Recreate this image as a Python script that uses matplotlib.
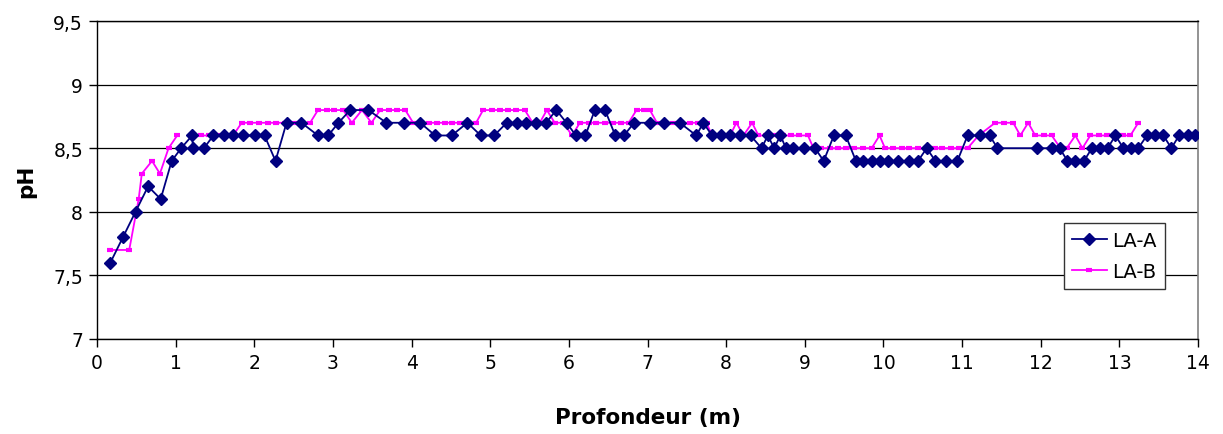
import numpy as np
import matplotlib
matplotlib.use("Agg")
import matplotlib.pyplot as plt
from matplotlib.ticker import FuncFormatter, MultipleLocator

plt.rcParams["font.family"] = ["DejaVu Sans"]

# LA-A profile: depth (m) and pH
depth_a = [0.17, 0.33, 0.49, 0.65, 0.81, 0.95, 1.07, 1.21, 1.22, 1.36,
           1.48, 1.61, 1.73, 1.86, 2.01, 2.13, 2.27, 2.41, 2.60, 2.81,
           2.94, 3.07, 3.22, 3.45, 3.68, 3.91, 4.11, 4.30, 4.51, 4.71,
           4.88, 5.05, 5.21, 5.34, 5.46, 5.58, 5.71, 5.84, 5.97, 6.09,
           6.21, 6.33, 6.46, 6.59, 6.70, 6.83, 7.03, 7.21, 7.41, 7.62,
           7.71, 7.82, 7.93, 8.05, 8.18, 8.31, 8.45, 8.53, 8.61, 8.69,
           8.76, 8.85, 8.99, 9.13, 9.24, 9.37, 9.52, 9.65, 9.74, 9.85,
           9.96, 10.06, 10.18, 10.32, 10.44, 10.55, 10.66, 10.80, 10.94, 11.07,
           11.23, 11.35, 11.45, 11.95, 12.14, 12.24, 12.34, 12.44, 12.55, 12.65,
           12.75, 12.85, 12.95, 13.05, 13.15, 13.24, 13.35, 13.45, 13.56, 13.66,
           13.76, 13.87, 13.96]
ph_a = [7.6, 7.8, 8.0, 8.2, 8.1, 8.4, 8.5, 8.6, 8.5, 8.5,
        8.6, 8.6, 8.6, 8.6, 8.6, 8.6, 8.4, 8.7, 8.7, 8.6,
        8.6, 8.7, 8.8, 8.8, 8.7, 8.7, 8.7, 8.6, 8.6, 8.7,
        8.6, 8.6, 8.7, 8.7, 8.7, 8.7, 8.7, 8.8, 8.7, 8.6,
        8.6, 8.8, 8.8, 8.6, 8.6, 8.7, 8.7, 8.7, 8.7, 8.6,
        8.7, 8.6, 8.6, 8.6, 8.6, 8.6, 8.5, 8.6, 8.5, 8.6,
        8.5, 8.5, 8.5, 8.5, 8.4, 8.6, 8.6, 8.4, 8.4, 8.4,
        8.4, 8.4, 8.4, 8.4, 8.4, 8.5, 8.4, 8.4, 8.4, 8.6,
        8.6, 8.6, 8.5, 8.5, 8.5, 8.5, 8.4, 8.4, 8.4, 8.5,
        8.5, 8.5, 8.6, 8.5, 8.5, 8.5, 8.6, 8.6, 8.6, 8.5,
        8.6, 8.6, 8.6]

# LA-B profile (missing reading around 1.1 m)
depth_b = [0.17, 0.41, 0.53, 0.57, 0.70, 0.80, 0.91, 1.02, 1.11,
           1.22, 1.32, 1.43, 1.53, 1.63, 1.73,
           1.84, 1.95, 2.06, 2.17, 2.28, 2.39, 2.50, 2.60, 2.71,
           2.81, 2.92, 3.02, 3.13, 3.24, 3.37, 3.49,
           3.60, 3.71, 3.81, 3.92,
           4.02, 4.12, 4.22, 4.32, 4.42, 4.52, 4.62, 4.72, 4.82,
           4.91, 5.02, 5.12, 5.23, 5.33, 5.44, 5.54, 5.63, 5.72, 5.82, 5.93,
           6.04, 6.14, 6.25, 6.35, 6.46, 6.56, 6.66, 6.76,
           6.86, 6.95, 7.03, 7.12, 7.22, 7.33, 7.43, 7.54, 7.64, 7.75,
           7.82, 7.93, 8.05, 8.13, 8.22, 8.33,
           8.41, 8.51, 8.62, 8.72, 8.83, 8.93, 9.04,
           9.11, 9.21, 9.32, 9.42, 9.53, 9.63, 9.74, 9.85, 9.95,
           10.02, 10.12, 10.23, 10.33, 10.44, 10.54, 10.65, 10.75, 10.86, 10.96, 11.07,
           11.21, 11.42, 11.53, 11.65, 11.74, 11.84, 11.93, 12.04, 12.14,
           12.25, 12.33, 12.44, 12.53,
           12.63, 12.74, 12.84, 12.95, 13.04, 13.14, 13.24]
ph_b = [7.7, 7.7, 8.1, 8.3, 8.4, 8.3, 8.5, 8.6, np.nan,
        8.6, 8.6, 8.6, 8.6, 8.6, 8.6,
        8.7, 8.7, 8.7, 8.7, 8.7, 8.7, 8.7, 8.7, 8.7,
        8.8, 8.8, 8.8, 8.8, 8.7, 8.8, 8.7,
        8.8, 8.8, 8.8, 8.8,
        8.7, 8.7, 8.7, 8.7, 8.7, 8.7, 8.7, 8.7, 8.7,
        8.8, 8.8, 8.8, 8.8, 8.8, 8.8, 8.7, 8.7, 8.8, 8.7, 8.7,
        8.6, 8.7, 8.7, 8.7, 8.7, 8.7, 8.7, 8.7,
        8.8, 8.8, 8.8, 8.7, 8.7, 8.7, 8.7, 8.7, 8.7, 8.7,
        8.6, 8.6, 8.6, 8.7, 8.6, 8.7,
        8.6, 8.6, 8.6, 8.6, 8.6, 8.6, 8.6,
        8.5, 8.5, 8.5, 8.5, 8.5, 8.5, 8.5, 8.5, 8.6,
        8.5, 8.5, 8.5, 8.5, 8.5, 8.5, 8.5, 8.5, 8.5, 8.5, 8.5,
        8.6, 8.7, 8.7, 8.7, 8.6, 8.7, 8.6, 8.6, 8.6,
        8.5, 8.5, 8.6, 8.5,
        8.6, 8.6, 8.6, 8.6, 8.6, 8.6, 8.7]

fig = plt.figure(figsize=(12.23, 4.35), dpi=100)
ax = fig.add_axes([0.0793, 0.2184, 0.9003, 0.7310])

ax.plot(depth_a, ph_a, color="#000080", lw=1.3, marker="D", ms=6,
        mec="#000080", mfc="#000080", label="LA-A", zorder=3)
ax.plot(depth_b, ph_b, color="#FF00FF", lw=1.3, marker="_", ms=5,
        mew=3, label="LA-B", zorder=2)

ax.set_xlim(0, 14)
ax.set_ylim(7, 9.5)
ax.xaxis.set_major_locator(MultipleLocator(1))
ax.yaxis.set_major_locator(MultipleLocator(0.5))
ax.yaxis.set_major_formatter(FuncFormatter(lambda v, p: f"{v:g}".replace(".", ",")))

ax.grid(axis="y", color="black", lw=0.9)
ax.set_axisbelow(True)
ax.spines["right"].set_color("#808080")
ax.spines["right"].set_linewidth(1.2)
for side in ["left", "bottom", "top"]:
    ax.spines[side].set_color("black")
    ax.spines[side].set_linewidth(1.0)

ax.tick_params(direction="out", length=6, width=1, labelsize=13.5, colors="black", pad=4)

ax.set_xlabel("Profondeur (m)", fontsize=15.5, fontweight="bold", labelpad=25)
ax.set_ylabel("pH", fontsize=15.5, fontweight="bold", labelpad=12)

leg = ax.legend(loc="center", bbox_to_anchor=(0.924, 0.261), fontsize=14,
                frameon=True, fancybox=False, framealpha=1, edgecolor="#333333",
                handlelength=1.8, borderpad=0.4, labelspacing=0.6,
                handletextpad=0.3, borderaxespad=0)
leg.get_frame().set_linewidth(1.0)

fig.savefig("out.png", dpi=100)
